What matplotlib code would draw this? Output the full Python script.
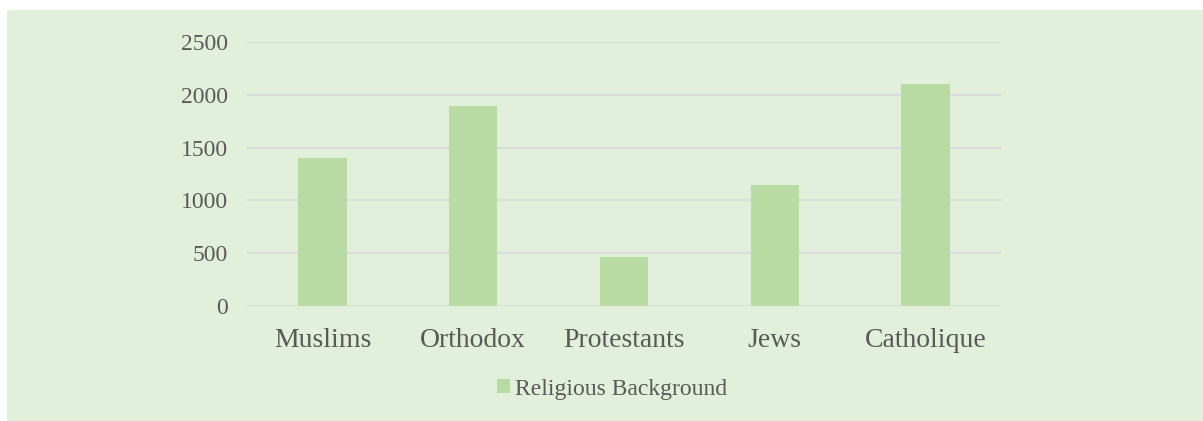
import matplotlib.pyplot as plt
from matplotlib.patches import Rectangle

# 数据
religions = ['Muslims', 'Orthodox', 'Protestants', 'Jews', 'Catholique']
counts = [1400, 1900, 465, 1150, 2100]
yticks = [0, 500, 1000, 1500, 2000, 2500]

W, H = 1203, 421
fig = plt.figure(figsize=(W / 100, H / 100), dpi=100)
fig.patch.set_facecolor('white')
# 浅绿色背景面板
fig.patches.append(Rectangle((7 / W, 0), 1 - 7 / W, 1 - 10 / H, transform=fig.transFigure,
                             facecolor='#E2EFDA', edgecolor='none', zorder=-10))

ax = fig.add_axes([247 / W, 1 - 305.7 / H, (1001 - 247) / W, (305.7 - 42.3) / H])
ax.set_facecolor('none')
ax.bar(religions, counts, width=0.32, color='#B8DBA3', zorder=2, label='Religious Background')
ax.set_ylim(0, 2500)
ax.set_xlim(-0.5, 4.5)
ax.set_yticks(yticks)
ax.yaxis.grid(True, color='#D9D9D9', linewidth=1.2, zorder=1)
ax.set_axisbelow(True)
for s in ax.spines.values():
    s.set_visible(False)
ax.tick_params(axis='both', length=0, colors='#595959')
ax.tick_params(axis='y', pad=14)
ax.tick_params(axis='x', pad=16)
for t in ax.get_yticklabels():
    t.set_fontfamily('Liberation Serif')
    t.set_fontsize(17)
for t in ax.get_xticklabels():
    t.set_fontfamily('Liberation Serif')
    t.set_fontsize(20)

leg = fig.legend(loc='center', bbox_to_anchor=(612 / W, 1 - 389 / H), frameon=False,
                 prop={'family': 'Liberation Serif', 'size': 17}, handlelength=0.55,
                 handleheight=0.55, handletextpad=0.2)
for t in leg.get_texts():
    t.set_color('#595959')

fig.savefig('out.png', dpi=100, facecolor=fig.get_facecolor())
